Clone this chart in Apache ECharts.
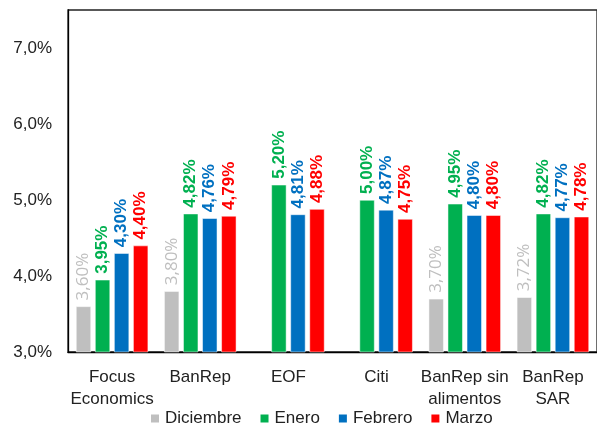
<!DOCTYPE html>
<html>
<head>
<meta charset="utf-8">
<script src="https://cdn.jsdelivr.net/npm/echarts@6/dist/echarts.min.js"></script>
<style>
  html, body { margin: 0; padding: 0; background: #fff; }
  #chart { width: 597px; height: 426px; }
</style>
</head>
<body>
<div id="chart"></div>
<script>
const categories = ['Focus\nEconomics', 'BanRep', 'EOF', 'Citi', 'BanRep sin\nalimentos', 'BanRep\nSAR']
const seriesNames = ['Diciembre', 'Enero', 'Febrero', 'Marzo']
const diciembre = [3.60, 3.80, null, null, 3.70, 3.72]
const enero = [3.95, 4.82, 5.20, 5.00, 4.95, 4.82]
const febrero = [4.30, 4.76, 4.81, 4.87, 4.80, 4.77]
const marzo = [4.40, 4.79, 4.88, 4.75, 4.80, 4.78]
const colors = ['#BFBFBF', '#00B050', '#0070C0', '#FF0000']

const fmt = (v, d) => v.toFixed(d).replace('.', ',') + '%'

const makeSeries = (name, data, i) => ({
  name,
  type: 'bar',
  data,
  barWidth: 15,
  barGap: '27%',
  itemStyle: { color: colors[i], borderColor: '#fff', borderWidth: 0.5 },
  label: {
    show: true,
    position: 'top',
    rotate: 90,
    align: 'left',
    verticalAlign: 'middle',
    distance: 6,
    color: colors[i],
    fontFamily: i === 0 ? 'Open Sans' : 'Liberation Sans',
    fontSize: 17,
    fontWeight: i === 0 ? 'normal' : 'bold',
    formatter: p => fmt(p.value, 2)
  }
})

const chart = echarts.init(document.getElementById('chart'), null, { renderer: 'canvas' })
chart.setOption({
  animation: false,
  textStyle: { fontFamily: 'Liberation Sans' },
  grid: {
    left: 68,
    top: 10,
    right: -3,
    bottom: 74,
    show: true,
    borderColor: '#222',
    borderWidth: 1.3
  },
  legend: {
    data: seriesNames,
    left: 144,
    top: 405,
    icon: 'rect',
    itemWidth: 10,
    itemHeight: 10,
    itemGap: 17,
    textStyle: { fontSize: 17, color: '#222', fontFamily: 'Liberation Sans' }
  },
  xAxis: {
    type: 'category',
    data: categories,
    axisLine: { show: true, lineStyle: { color: '#000', width: 1.3 } },
    axisTick: { show: false },
    axisLabel: {
      margin: 14,
      fontSize: 17,
      lineHeight: 22,
      color: '#222',
      interval: 0
    }
  },
  yAxis: {
    type: 'value',
    min: 3,
    max: 7.5,
    interval: 1,
    axisLine: { show: true, lineStyle: { color: '#000', width: 1.3 } },
    axisTick: { show: false },
    splitLine: { show: false },
    axisLabel: {
      margin: 16,
      fontSize: 17,
      color: '#222',
      showMaxLabel: false,
      formatter: v => (v > 7.1 ? '' : fmt(v, 1))
    }
  },
  series: [
    makeSeries('Diciembre', diciembre, 0),
    makeSeries('Enero', enero, 1),
    makeSeries('Febrero', febrero, 2),
    makeSeries('Marzo', marzo, 3)
  ]
})
</script>
</body>
</html>
